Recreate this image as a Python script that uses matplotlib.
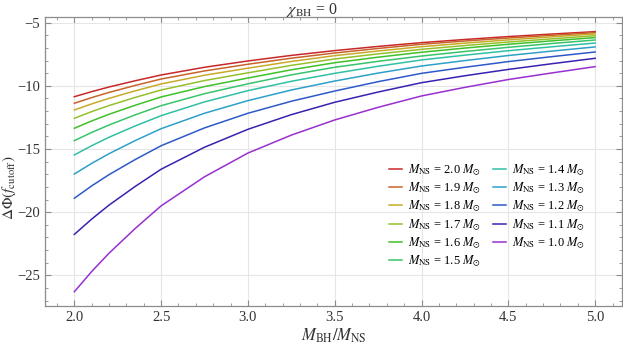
import numpy as np
import matplotlib
matplotlib.use("Agg")
import matplotlib.pyplot as plt
from matplotlib.ticker import MultipleLocator

plt.rcParams['font.family'] = ['Liberation Serif', 'DejaVu Serif']
plt.rcParams['mathtext.fontset'] = 'stix'

# mass ratio values where the curves were read
ratio = [2.0, 2.1, 2.2, 2.35, 2.5, 2.75, 3.0, 3.25, 3.5, 3.75, 4.0, 4.25, 4.5, 4.75, 5.0]

# neutron star masses (legend order)
m_ns = ["2.0", "1.9", "1.8", "1.7", "1.6", "1.5", "1.4", "1.3", "1.2", "1.1", "1.0"]

dphi_20 = [-10.86, -10.46, -10.09, -9.60, -9.14, -8.53, -8.03, -7.59, -7.21, -6.88, -6.58, -6.33, -6.10, -5.90, -5.71]
dphi_19 = [-11.38, -10.93, -10.52, -9.97, -9.46, -8.82, -8.29, -7.81, -7.40, -7.04, -6.71, -6.45, -6.21, -6.00, -5.79]
dphi_18 = [-11.91, -11.43, -10.99, -10.40, -9.85, -9.16, -8.60, -8.07, -7.61, -7.24, -6.90, -6.62, -6.36, -6.12, -5.89]
dphi_17 = [-12.57, -12.04, -11.56, -10.92, -10.33, -9.58, -8.97, -8.38, -7.87, -7.47, -7.11, -6.81, -6.53, -6.28, -6.03]
dphi_16 = [-13.36, -12.78, -12.25, -11.54, -10.88, -10.06, -9.38, -8.73, -8.17, -7.73, -7.34, -7.01, -6.71, -6.44, -6.18]
dphi_15 = [-14.34, -13.69, -13.10, -12.30, -11.57, -10.62, -9.84, -9.13, -8.53, -8.06, -7.64, -7.28, -6.95, -6.65, -6.37]
dphi_14 = [-15.47, -14.74, -14.07, -13.18, -12.36, -11.27, -10.38, -9.64, -9.01, -8.45, -7.95, -7.57, -7.22, -6.91, -6.61]
dphi_13 = [-16.98, -16.14, -15.37, -14.34, -13.39, -12.17, -11.17, -10.33, -9.62, -8.99, -8.43, -8.00, -7.60, -7.25, -6.92]
dphi_12 = [-18.90, -17.92, -17.03, -15.84, -14.74, -13.33, -12.17, -11.22, -10.41, -9.67, -9.01, -8.53, -8.08, -7.69, -7.32]
dphi_11 = [-21.76, -20.55, -19.44, -17.97, -16.60, -14.86, -13.44, -12.28, -11.30, -10.49, -9.75, -9.20, -8.70, -8.25, -7.82]
dphi_10 = [-26.30, -24.70, -23.25, -21.30, -19.50, -17.20, -15.32, -13.90, -12.70, -11.70, -10.80, -10.12, -9.50, -8.98, -8.48]

curves = [dphi_20, dphi_19, dphi_18, dphi_17, dphi_16, dphi_15,
          dphi_14, dphi_13, dphi_12, dphi_11, dphi_10]

colors = ["#c8282a", "#c8642a", "#c8aa2a", "#96c02a", "#40c02a", "#38c46a",
          "#30c0a4", "#2ea0c8", "#2e5ac8", "#3a22b0", "#9830d0"]

fig = plt.figure(figsize=(6.23, 3.45), dpi=100)
ax = fig.add_axes([0.0722, 0.113, 0.926, 0.837])

for m, y, c in zip(m_ns, curves, colors):
    ax.plot(ratio, y, color=c, lw=1.1, solid_joinstyle='round',
            label=r"$M_{\rm NS}$ = " + m + r" $M_{\odot}$")

ax.set_xlim(1.831, 5.154)
ax.set_ylim(-27.43, -4.57)
ax.xaxis.set_major_locator(MultipleLocator(0.5))
ax.xaxis.set_minor_locator(MultipleLocator(0.1))
ax.yaxis.set_major_locator(MultipleLocator(5))
ax.yaxis.set_minor_locator(MultipleLocator(1))
ax.xaxis.set_major_formatter(matplotlib.ticker.FormatStrFormatter('%.1f'))
ax.yaxis.set_major_formatter(matplotlib.ticker.FuncFormatter(lambda v, p: ("\u2212%d" % -v) if v < 0 else "%d" % v))

ax.grid(True, which='major', color='#e6e6e6', lw=0.8)
ax.set_axisbelow(True)
for s in ax.spines.values():
    s.set_color('#8c8c8c')
    s.set_linewidth(0.9)
ax.tick_params(which='both', direction='in', color='#8c8c8c', top=True, right=True,
               labelsize=10.5, labelcolor='#333333')
ax.tick_params(which='major', length=4)
ax.tick_params(which='minor', length=2)

ax.set_xlabel(r"$M_{\rm BH}/M_{\rm NS}$", fontsize=12, color='#333333', labelpad=2)
ax.set_ylabel(r"$\Delta\Phi(f_{\rm cutoff})$", fontsize=11, color='#333333')
ax.yaxis.set_label_coords(-0.047, 0.41)
fig.text(0.5, 0.972, r"$\chi_{\rm BH}$ = 0", fontsize=11.5, color='#333333',
         ha='center', va='center')

ax.legend(ncol=2, loc='upper left', bbox_to_anchor=(0.6244, 0.529),
          bbox_transform=fig.transFigure, frameon=False, fontsize=9,
          handlelength=1.0, handletextpad=0.5, columnspacing=1.0,
          labelspacing=0.2, borderpad=0, borderaxespad=0)

fig.savefig("out.png", dpi=100)
